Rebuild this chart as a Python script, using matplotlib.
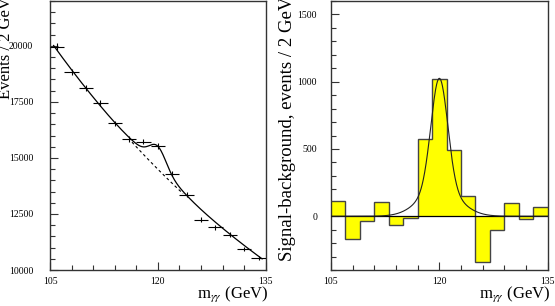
import numpy as np
import matplotlib
matplotlib.use("Agg")
from matplotlib import pyplot as plt
from matplotlib.ticker import MultipleLocator, FixedLocator

plt.rcParams['font.family'] = ['Liberation Serif', 'DejaVu Serif']
plt.rcParams['mathtext.fontset'] = 'stix'

bin_edges = [105, 107, 109, 111, 113, 115, 117, 119, 121, 123, 125, 127, 129, 131, 133, 135]
bin_centers = [106, 108, 110, 112, 114, 116, 118, 120, 122, 124, 126, 128, 130, 132, 134]
events = [19970, 18850, 18130, 17460, 16540, 15850, 15730, 15520,
          14300, 13360, 12250, 11910, 11570, 10940, 10540]
sig_minus_bkg = [110, -172, -37, 108, -66, -17, 576, 1020,
                 490, 150, -342, -101, 98, -20, 71]

# fit parameters (exponential background + double gaussian signal)
bkg_at_120 = 14495.0
bkg_slope = -0.02225
sig_peak = 1025.0
sig_mean = 120.0
sig_core_width, sig_core_frac = 1.15, 0.8
sig_tail_width, sig_tail_frac = 2.7, 0.2


def bkg(m):
    return bkg_at_120 * np.exp(bkg_slope * (m - 120.0))


def sig(m):
    d = m - sig_mean
    return sig_peak * (sig_core_frac * np.exp(-0.5 * (d / sig_core_width) ** 2)
                       + sig_tail_frac * np.exp(-0.5 * (d / sig_tail_width) ** 2))


W, H = 555, 306
fig = plt.figure(figsize=(W / 100, H / 100), dpi=100)

axL = fig.add_axes([50 / W, 1 - 270 / H, 215.7 / W, 269 / H])
axR = fig.add_axes([331 / W, 1 - 270 / H, 216.7 / W, 269 / H])

edge = '#333333'

# ---- left panel: data + fit
yerr = np.sqrt(events)
axL.errorbar(bin_centers, events, xerr=1.0, yerr=yerr, fmt='none',
             ecolor='black', elinewidth=0.8, capsize=0, zorder=3)
m = np.linspace(105.5, 134.5, 600)
axL.plot(m, bkg(m) + sig(m), color='black', lw=0.9, zorder=4)
mb = np.linspace(116.4, 123.5, 100)
axL.plot(mb, bkg(mb), color='black', lw=0.8, ls=(0, (2.5, 2.5)), zorder=4)

axL.set_xlim(105, 135)
axL.set_ylim(10000, 22000)
axL.yaxis.set_major_locator(FixedLocator([10000, 12500, 15000, 17500, 20000]))
axL.yaxis.set_minor_locator(MultipleLocator(500))

# ---- right panel: signal - background histogram
axR.stairs(sig_minus_bkg, bin_edges, baseline=0, fill=True,
           color='#ffff00', lw=0, zorder=2)
axR.stairs(sig_minus_bkg, bin_edges, baseline=None, color='#444444',
           lw=1.0, zorder=3)
axR.axhline(0, color='black', lw=0.9, zorder=3)
mr = np.linspace(105, 135, 600)
axR.plot(mr, sig(mr), color='#222222', lw=0.8, zorder=4)

axR.set_xlim(105, 135)
axR.set_ylim(-400, 1600)
axR.yaxis.set_major_locator(FixedLocator([0, 500, 1000, 1500]))
axR.yaxis.set_minor_locator(MultipleLocator(100))

for ax, pad in ((axL, 12), (axR, 10)):
    ax.xaxis.set_major_locator(FixedLocator([105, 120, 135]))
    ax.xaxis.set_minor_locator(MultipleLocator(3))
    ax.tick_params(axis='both', which='both', direction='in', top=False,
                   right=False, color=edge, width=0.8, labelsize=7)
    ax.tick_params(axis='both', which='major', length=6)
    ax.tick_params(axis='both', which='minor', length=3.5)
    ax.tick_params(axis='y', which='major', pad=pad)
    ax.tick_params(axis='x', which='major', pad=5)
    for s in ax.spines.values():
        s.set_color(edge)
        s.set_linewidth(1.0)
    ax.set_xlabel(r'm$_{\gamma\gamma}$ (GeV)', fontsize=12, ha='right',
                  va='baseline')
    ax.xaxis.set_label_coords(1.015, -27.5 / 269)

fig.text(6 / W, 1 + 3 / H, 'Events / 2 GeV', rotation=90, ha='center',
         va='top', fontsize=12)
fig.text(287 / W, 1 + 3 / H, 'Signal-background, events / 2 GeV', rotation=90,
         ha='center', va='top', fontsize=13.5)

fig.savefig('out.png', dpi=100)
